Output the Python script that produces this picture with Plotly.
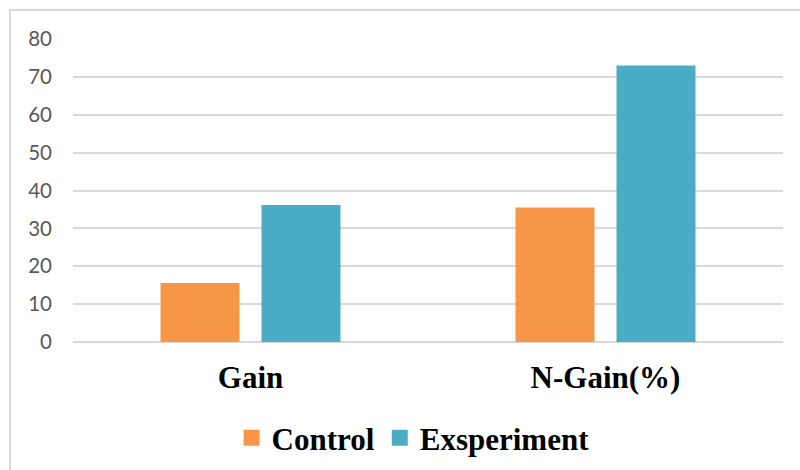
import plotly.graph_objects as go

categories = ["Gain", "N-Gain(%)"]
control = [15.6, 35.5]
experiment = [36.2, 73.0]
series_names = ["Control", "Exsperiment"]
y_ticks = [0, 10, 20, 30, 40, 50, 60, 70, 80]

ORANGE = "#F79646"
TEAL = "#4BACC6"
GRID = "#D9D9D9"

fig = go.Figure()
fig.add_trace(go.Bar(x=categories, y=control, name=series_names[0], showlegend=False,
                     marker=dict(color=ORANGE, line=dict(width=0))))
fig.add_trace(go.Bar(x=categories, y=experiment, name=series_names[1], showlegend=False,
                     marker=dict(color=TEAL, line=dict(width=0))))

# square legend keys
for name, color in zip(series_names, [ORANGE, TEAL]):
    fig.add_trace(go.Scatter(x=[None], y=[None], mode="markers", name=name,
                             marker=dict(symbol="square", size=16, color=color)))

L, R, T, B = 73, 17, 39, 128
W, H = 800, 470
pw, ph = W - L - R, H - T - B

# outer chart frame (extends past the right and bottom edges)
fig.add_shape(type="rect", xref="paper", yref="paper",
              x0=(10 - L) / pw, x1=(W + 20 - L) / pw,
              y0=-(H + 20 - (T + ph)) / ph, y1=(T + ph - 10) / ph,
              line=dict(color=GRID, width=2), fillcolor="rgba(0,0,0,0)",
              layer="below")

fig.update_layout(
    width=W, height=H,
    margin=dict(l=L, r=R, t=T, b=B, autoexpand=False),
    paper_bgcolor="white", plot_bgcolor="white",
    barmode="group", bargap=0.431, bargroupgap=0.218,
    showlegend=True,
    legend=dict(orientation="h", x=0.479, xanchor="center", y=-0.317, yanchor="middle",
                font=dict(family="Liberation Serif", size=31, color="black", weight="bold"),
                itemwidth=30, traceorder="normal"),
    xaxis=dict(showline=False, ticks="", showgrid=False, automargin=False,
               tickfont=dict(family="Liberation Serif", size=31, color="black", weight="bold"),
               ticklabelstandoff=14),
    yaxis=dict(range=[0, 80], tickvals=y_ticks, showgrid=True, gridcolor=GRID,
               gridwidth=2, zeroline=True, zerolinecolor=GRID, zerolinewidth=2,
               showline=False, ticks="", automargin=False,
               tickfont=dict(family="Lato", size=20.5, color="#595959"),
               ticklabelstandoff=20),
)

fig.write_html("out.html")
